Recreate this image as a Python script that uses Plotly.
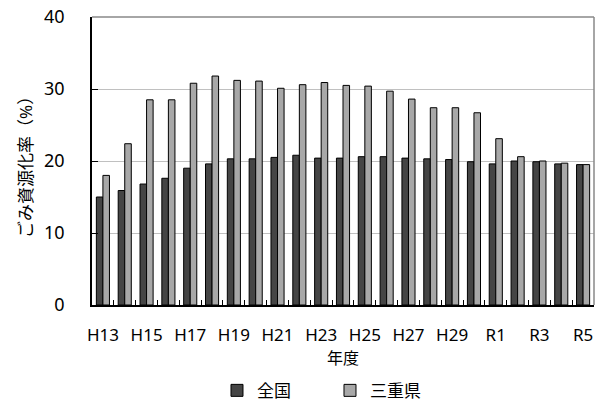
import plotly.graph_objects as go

years = ["H13", "H14", "H15", "H16", "H17", "H18", "H19", "H20", "H21", "H22",
         "H23", "H24", "H25", "H26", "H27", "H28", "H29", "H30",
         "R1", "R2", "R3", "R4", "R5"]
national = [15.0, 15.9, 16.8, 17.6, 19.0, 19.6, 20.3, 20.3, 20.5, 20.8,
            20.4, 20.4, 20.6, 20.6, 20.4, 20.3, 20.2, 19.9,
            19.6, 20.0, 19.9, 19.6, 19.5]
mie = [18.0, 22.4, 28.5, 28.5, 30.8, 31.8, 31.2, 31.1, 30.1, 30.6,
       30.9, 30.5, 30.4, 29.7, 28.6, 27.4, 27.4, 26.7,
       23.1, 20.6, 20.0, 19.7, 19.5]
tick_labels = [y if i % 2 == 0 else "" for i, y in enumerate(years)]
y_title = "ごみ資源化率（%）"
x_title = "年度"

FONT = "Noto Sans, Noto Sans CJK JP, sans-serif"

fig = go.Figure()
fig.add_trace(go.Bar(x=years, y=national, name="全国",
                     marker=dict(color="#454545", line=dict(color="#000000", width=1))))
fig.add_trace(go.Bar(x=years, y=mie, name="三重県",
                     marker=dict(color="#a8a8a8", line=dict(color="#000000", width=1))))

fig.update_layout(
    width=606, height=403,
    margin=dict(l=92, r=12, t=17, b=98, autoexpand=False),
    paper_bgcolor="white", plot_bgcolor="white",
    barmode="group", bargap=0.4, bargroupgap=0,
    font=dict(family=FONT, color="#000000"),
    showlegend=True,
    legend=dict(orientation="h", x=0.249, xanchor="left", y=-0.298, yanchor="middle",
                font=dict(size=17, family=FONT), entrywidth=68, itemwidth=30,
                bgcolor="rgba(0,0,0,0)"),
    xaxis=dict(
        type="category", tickmode="array", tickvals=years, ticktext=tick_labels,
        tickson="boundaries", ticks="inside", ticklen=5, tickcolor="#000000",
        showline=True, linecolor="#000000", linewidth=1.5, tickangle=0,
        showgrid=False, tickfont=dict(size=17, family=FONT), automargin=False,
        ticklabelstandoff=14,
        title=dict(text=x_title, font=dict(size=16, family=FONT), standoff=8),
    ),
    yaxis=dict(
        range=[0, 40], dtick=10, ticks="inside", ticklen=6, tickcolor="#000000",
        showline=True, linecolor="#000000", linewidth=1.5, automargin=False,
        showgrid=True, gridcolor="#c0c0c0", gridwidth=1, zeroline=False,
        tickfont=dict(size=18, family=FONT), ticklabelstandoff=22,
        ticklabeloverflow="allow",
    ),
    annotations=[
        dict(text=y_title, xref="paper", yref="paper", x=-0.1335, y=0.493,
             xanchor="center", yanchor="middle", textangle=-90, showarrow=False,
             font=dict(size=17, family=FONT, color="#000000")),
    ],
    shapes=[
        dict(type="line", xref="paper", yref="paper", x0=0, x1=1, y0=1, y1=1,
             line=dict(color="#888888", width=1.5)),
        dict(type="line", xref="paper", yref="paper", x0=1, x1=1, y0=0, y1=1,
             line=dict(color="#888888", width=1.5)),
    ],
)

# remove the page's default 8px body margin so the figure fills the window exactly
fig.write_html("out.html", config={"displayModeBar": False},
               post_script="document.body.style.margin='0';")
